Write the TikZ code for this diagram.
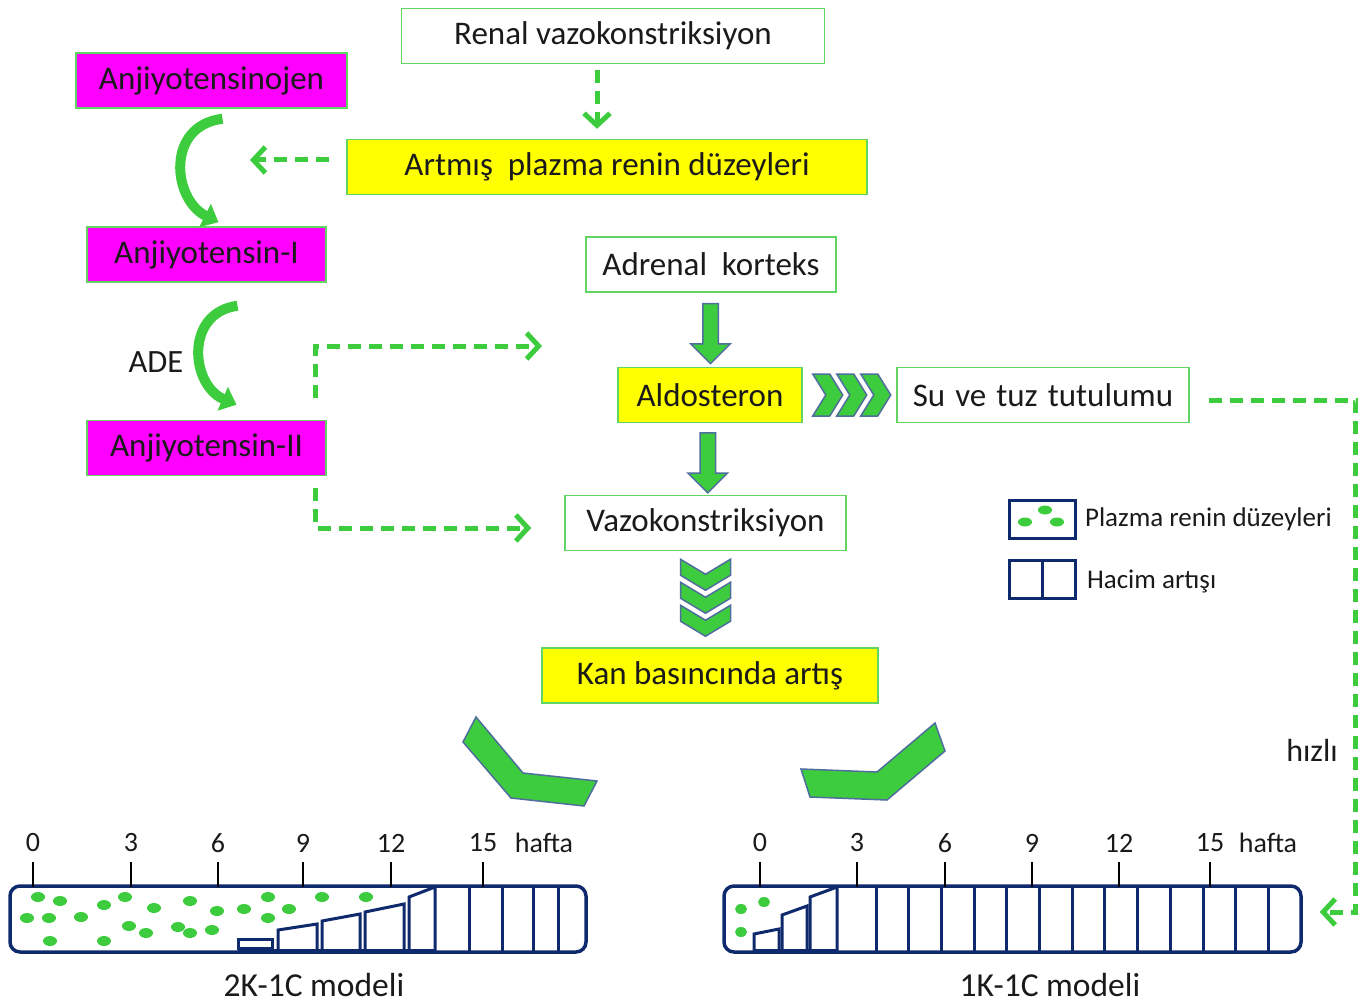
\documentclass[tikz,border=0pt]{standalone}
\usepackage{fontspec}
\setmainfont{Carlito}
\usepackage{tikz}
\usetikzlibrary{arrows.meta, shapes.arrows, calc}
\definecolor{my_green}{HTML}{3DCC3D}
\definecolor{my_boxgreen}{HTML}{62D462}
\definecolor{my_magenta}{HTML}{FF00FF}
\definecolor{my_yellow}{HTML}{FFFF00}
\definecolor{my_navy}{HTML}{0E2A6C}
\definecolor{my_steel}{HTML}{4F6E9E}
\definecolor{my_text}{HTML}{1A1A1A}

\begin{document}
\begin{tikzpicture}[
    x=1pt, y=-1pt,
    box/.style={draw=my_boxgreen, line width=1.5pt, minimum height=55pt, inner sep=0pt,
        text=my_text, font=\fontsize{33}{38}\selectfont},
    ybox/.style={box, fill=my_yellow},
    mbox/.style={box, fill=my_magenta},
    weg/.style={my_green, line width=5pt, dash pattern=on 13pt off 8pt,
        -{Straight Barb[length=12pt, width=26pt]}},
    kurve/.style={my_green, line width=10pt, -{Triangle[length=15pt, width=25pt]}},
    blockpfeil/.style={single arrow, draw=my_steel, fill=my_green, line width=1.5pt,
        inner sep=7pt, single arrow head extend=12pt, single arrow head indent=0pt,
        minimum height=60pt, rotate=-90},
    chev/.style={draw=my_steel, fill=my_green, line width=1.5pt, line join=miter},
    bar/.style={draw=my_navy, line width=3.5pt, rounded corners=10pt,
        minimum height=66pt, inner sep=0pt},
    vol/.style={draw=my_navy, line width=3pt, line join=miter},
    tickline/.style={draw=black, line width=1.5pt},
    tlabel/.style={text=my_text, font=\fontsize{28}{32}\selectfont},
    legtext/.style={text=my_text, font=\fontsize{27}{32}\selectfont, anchor=west}
]
\useasboundingbox (0,0) rectangle (1360,1006);

% ===== Kaskade links: Angiotensin =====
\node[mbox, minimum width=271pt] (ajn) at (211.5,80.5) {Anjiyotensinojen};
\node[mbox, minimum width=239pt] (a1) at (206.5,254.5) {Anjiyotensin-I};
\node[mbox, minimum width=239pt] (a2) at (206.5,448) {Anjiyotensin-II};
\node[text=my_text, font=\fontsize{32.5}{38}\selectfont] (ade) at (156,362) {ADE};

\draw[kurve] ([shift={(11pt,-10pt)}]ajn.south)
    .. controls +(-57,7) and +(-46,-23) .. ([shift={(12pt,4pt)}]a1.north);
\draw[kurve] ([shift={(31pt,-23pt)}]a1.south)
    .. controls +(-53,7) and +(-46,-20) .. ([shift={(30pt,15pt)}]a2.north);

% ===== Mitte: Renin, Aldosteron =====
\node[box, minimum width=423pt] (renal) at (613,36) {Renal vazokonstriksiyon};
\node[ybox, minimum width=520pt] (artmis) at (607,167) {Artmış\ \ plazma renin düzeyleri};
\node[box, minimum width=250pt] (adrenal) at (711,264.5) {Adrenal\ \ korteks};
\node[ybox, minimum width=184pt] (aldo) at (710,395) {Aldosteron};
\node[box, minimum width=292pt] (su) at (1043,395)
    {Su\hspace{10pt}ve\hspace{10pt}tuz\hspace{10pt}tutulumu};
\node[box, minimum width=281pt] (vazo) at (705.5,523) {Vazokonstriksiyon};
\node[ybox, minimum width=336pt] (kan) at (710,675.5) {Kan basıncında artış};

\coordinate (renin) at (250,160);
\coordinate (aldoin) at (542,346);

% gestrichelte Pfeile
\draw[weg, shorten <=6pt, shorten >=10pt] ([xshift=-16pt]renal.south) -- ([xshift=-10pt]artmis.north);
\draw[weg] ([shift={(-17pt,7pt)}]artmis.west) -- (renin);
\draw[weg] ([shift={(-11pt,22pt)}]a2.north east) |- (aldoin);
\draw[weg] ([shift={(-11pt,-12pt)}]a2.south east) |- ([shift={(-33pt,-5pt)}]vazo.west);

% Blockpfeile
\node[blockpfeil] (pf1) at ($(adrenal.south)!0.5!(aldo.north)$) {};
\node[blockpfeil] (pf2) at ($(aldo.south)!0.5!(vazo.north)$) {};

% Winkel-Pfeile
\foreach \i in {0,1,2}
    \draw[chev] ($(aldo.east)+(10+24*\i,-21)$) -- ++(17,0) -- ++(13,21)
        -- ++(-13,21) -- ++(-17,0) -- ++(13,-21) -- cycle;
\foreach \i in {0,1,2}
    \draw[chev] ($(vazo.south)+(-25,8+23*\i)$) -- ++(25,15) -- ++(25,-15)
        -- ++(0,16) -- ++(-25,15) -- ++(-25,-15) -- cycle;

% geknickte Pfeile zu den Modellen
\draw[chev] (476,717) -- (463,742) -- (511,798) -- (584,806) -- (597,781) -- (523,773) -- cycle;
\draw[chev] (801,769) -- (810,797) -- (887,800) -- (945,751) -- (935,723) -- (877,772) -- cycle;

% ===== Legende =====
\node[draw=my_navy, line width=3pt, minimum width=66pt, minimum height=38pt, inner sep=0pt]
    (leg1) at (1042,519) {};
\foreach \dx/\dy in {-17/3, 3/-9, 15/3}
    \fill[my_green] ($(leg1.center)+(\dx,\dy)$) ellipse [x radius=7pt, y radius=4.5pt];
\node[legtext] (leg1txt) at ([xshift=5pt]leg1.east) {Plazma renin düzeyleri};
\node[draw=my_navy, line width=3pt, minimum width=66pt, minimum height=38pt, inner sep=0pt]
    (leg2) at (1042,579) {};
\draw[draw=my_navy, line width=3pt] (leg2.north) -- (leg2.south);
\node[legtext] (leg2txt) at ([xshift=7pt, yshift=-2pt]leg2.east) {Hacim artışı};

% ===== 2K-1C Modell =====
\node[bar, minimum width=576pt] (bar2k) at (298,919) {};
\foreach \x/\t in {33/0, 131/3, 218/6, 303/9, 391/12, 483/15} {
    \draw[tickline] (\x,862) -- (\x,887);
    \node[tlabel] (l2k-\t) at (\x,843) {\t};
}
\node[tlabel] (hafta2k) at (544,843) {hafta};
\foreach \p in {(38,897), (60,901), (27,918), (49,918), (81,917), (50,941), (104,905),
    (125,897), (154,908), (129,926), (146,933), (104,941), (190,901), (217,911),
    (178,927), (190,933), (212,930), (244,909), (268,897), (289,909), (268,918),
    (322,897), (366,897)}
    \fill[my_green] \p ellipse [x radius=7pt, y radius=5pt];
\draw[vol] (238,948) rectangle (272,939);
\foreach \xa/\ya/\xb/\yb in {278/930/317/924, 322/921/360/914, 365/912/404/904, 409/897/435/887}
    \draw[vol] (\xa,951) -- (\xa,\ya) -- (\xb,\yb) -- (\xb,951);
\draw[vol] (238,950) -- (435,950);
\foreach \x in {469, 502, 533, 558}
    \draw[vol] (\x,887) -- (\x,951);
\node[text=my_text, font=\fontsize{33.5}{38}\selectfont] (m2k) at (314,985) {2K-1C modeli};

% ===== 1K-1C Modell =====
\node[bar, minimum width=577pt] (bar1k) at (1012.5,919) {};
\foreach \x/\t in {760/0, 857/3, 945/6, 1032/9, 1119/12, 1210/15} {
    \draw[tickline] (\x,862) -- (\x,887);
    \node[tlabel] (l1k-\t) at (\x,843) {\t};
}
\node[tlabel] (hafta1k) at (1268,843) {hafta};
\foreach \p in {(741,909), (764,902), (741,932)}
    \fill[my_green] \p ellipse [x radius=6pt, y radius=5pt];
\foreach \xa/\ya/\xb/\yb in {754/934/779/929, 782/915/807/906, 810/897/837/887}
    \draw[vol] (\xa,951) -- (\xa,\ya) -- (\xb,\yb) -- (\xb,951);
\draw[vol] (754,950) -- (837,950);
\foreach \k in {0,...,12}
    \draw[vol] ({876+32.7*\k},887) -- ++(0,64);
\node[text=my_text, font=\fontsize{33.5}{38}\selectfont] (m1k) at (1050,985) {1K-1C modeli};

% schneller Weg
\draw[weg] ([shift={(19pt,-5pt)}]su.east) -- ++(147,0) |- ([shift={(17pt,7pt)}]bar1k.east);
\node[text=my_text, font=\fontsize{32}{36}\selectfont] (hizli) at (1312,750) {hızlı};

\end{tikzpicture}
\end{document}
